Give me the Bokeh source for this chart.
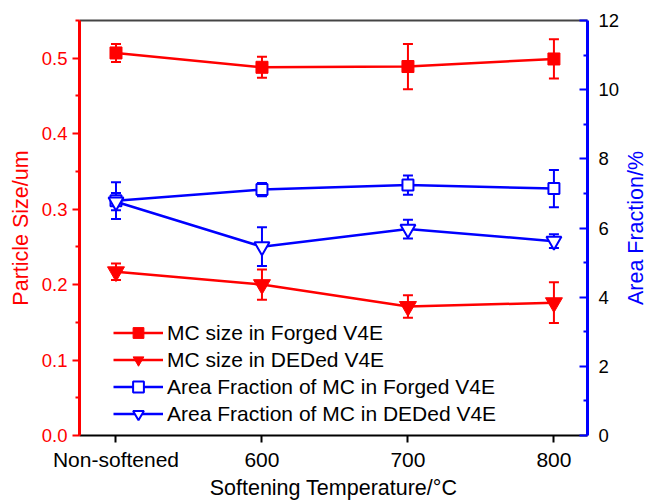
from bokeh.plotting import figure
from bokeh.layouts import row
from bokeh.models import (Range1d, LinearAxis, FixedTicker, ColumnDataSource,
                          Whisker, TeeHead, Legend, CustomJSTickFormatter, Title)
from bokeh.embed import file_html
from bokeh.resources import INLINE

# ---------------- data ----------------
categories = ["Non-softened", "600", "700", "800"]
xpos = [0, 1, 2, 3]

size_forged = [0.507, 0.488, 0.489, 0.499]
size_forged_err = [0.012, 0.014, 0.030, 0.026]
size_ded = [0.217, 0.200, 0.171, 0.176]
size_ded_err = [0.011, 0.020, 0.015, 0.027]

area_forged = [6.79, 7.11, 7.24, 7.14]
area_forged_err = [0.53, 0.19, 0.28, 0.54]
area_ded = [6.76, 5.46, 5.97, 5.62]
area_ded_err = [0.25, 0.56, 0.27, 0.20]

left_ticks = [0.0, 0.1, 0.2, 0.3, 0.4, 0.5]
left_minor = [0.05, 0.15, 0.25, 0.35, 0.45, 0.55]
right_ticks = [0, 2, 4, 6, 8, 10, 12]
right_minor = [1, 3, 5, 7, 9, 11]

RED = "#ff0000"
BLUE = "#0000ff"
FONT = "Liberation Sans"

W, H = 647, 502
W2 = 25                      # strip holding the right-hand axis title
BL, BR, BT, BB = 79, 32, 20, 67

p = figure(width=W - W2, height=H, output_backend="svg", toolbar_location=None,
           x_range=Range1d(-0.25, 3.23), y_range=Range1d(0, 0.55),
           min_border_left=BL, min_border_right=BR, min_border_top=BT,
           min_border_bottom=BB, y_axis_location=None, x_axis_location=None)
p.extra_y_ranges = {"area": Range1d(0, 12)}
p.grid.visible = False
p.outline_line_color = None
p.background_fill_color = "white"
p.border_fill_color = "white"

# bottom axis
xa = LinearAxis(ticker=FixedTicker(ticks=xpos),
                major_label_overrides={i: c for i, c in zip(xpos, categories)})
xa.axis_line_color = "black"
xa.axis_line_width = 2
xa.major_tick_line_color = "black"
xa.major_tick_line_width = 2
xa.major_tick_out = 7
xa.major_tick_in = 0
xa.minor_tick_line_color = None
xa.major_label_text_font = FONT
xa.major_label_text_font_size = "21px"
xa.major_label_text_color = "black"
xa.major_label_standoff = 5
xa.axis_label = "Softening Temperature/°C"
xa.axis_label_text_font = FONT
xa.axis_label_text_font_size = "21.5px"
xa.axis_label_text_font_style = "normal"
xa.axis_label_text_color = "black"
xa.axis_label_standoff = 2
p.add_layout(xa, "below")

# top border
ta = LinearAxis(ticker=FixedTicker(ticks=[]))
ta.axis_line_color = "#444444"
ta.axis_line_width = 2
ta.major_tick_line_color = None
ta.minor_tick_line_color = None
ta.major_label_text_font_size = "0px"
ta.major_label_standoff = 0
p.add_layout(ta, "above")

# left axis
la = LinearAxis(ticker=FixedTicker(ticks=left_ticks, minor_ticks=left_minor))
la.formatter = CustomJSTickFormatter(code="return tick.toFixed(1);")
la.axis_line_color = RED
la.axis_line_width = 3
la.major_tick_line_color = RED
la.major_tick_line_width = 2
la.major_tick_out = 7
la.major_tick_in = 0
la.minor_tick_line_color = RED
la.minor_tick_line_width = 2
la.minor_tick_out = 4
la.minor_tick_in = 0
la.major_label_text_font = FONT
la.major_label_text_font_size = "18.5px"
la.major_label_text_color = RED
la.major_label_standoff = 5
la.axis_label = "Particle Size/um"
la.axis_label_text_font = FONT
la.axis_label_text_font_size = "21.5px"
la.axis_label_text_font_style = "normal"
la.axis_label_text_color = RED
la.axis_label_standoff = 6
p.add_layout(la, "left")

# right axis
ra = LinearAxis(y_range_name="area",
                ticker=FixedTicker(ticks=right_ticks, minor_ticks=right_minor))
ra.axis_line_color = BLUE
ra.axis_line_width = 3
ra.major_tick_line_color = BLUE
ra.major_tick_line_width = 2
ra.major_tick_out = 0
ra.major_tick_in = 8
ra.minor_tick_line_color = BLUE
ra.minor_tick_line_width = 2
ra.minor_tick_out = 0
ra.minor_tick_in = 4
ra.major_label_text_font = FONT
ra.major_label_text_font_size = "18.5px"
ra.major_label_text_color = "black"
ra.major_label_standoff = 11
p.add_layout(ra, "right")


def src(vals, errs):
    return ColumnDataSource(dict(
        x=xpos, y=vals,
        lo=[v - e for v, e in zip(vals, errs)],
        hi=[v + e for v, e in zip(vals, errs)]))


def whisker(source, color, range_name="default"):
    w = Whisker(source=source, base="x", upper="hi", lower="lo",
                dimension="height", line_color=color, line_width=2,
                y_range_name=range_name,
                upper_head=TeeHead(size=10, line_color=color, line_width=2),
                lower_head=TeeHead(size=10, line_color=color, line_width=2))
    p.add_layout(w)


s1 = src(size_forged, size_forged_err)
s2 = src(size_ded, size_ded_err)
s3 = src(area_forged, area_forged_err)
s4 = src(area_ded, area_ded_err)

whisker(s1, RED)
whisker(s2, RED)
whisker(s3, BLUE, "area")
whisker(s4, BLUE, "area")

l1 = p.line("x", "y", source=s1, line_color=RED, line_width=2.5)
m1 = p.scatter("x", "y", source=s1, marker="square", size=12,
               fill_color=RED, line_color=RED)
l2 = p.line("x", "y", source=s2, line_color=RED, line_width=2.5)
m2 = p.scatter("x", "y", source=s2, marker="inverted_triangle", size=17,
               fill_color=RED, line_color=RED)
l3 = p.line("x", "y", source=s3, line_color=BLUE, line_width=2.5,
            y_range_name="area")
m3 = p.scatter("x", "y", source=s3, marker="square", size=11,
               fill_color="white", line_color=BLUE, line_width=2,
               y_range_name="area")
l4 = p.line("x", "y", source=s4, line_color=BLUE, line_width=2.5,
            y_range_name="area")
m4 = p.scatter("x", "y", source=s4, marker="inverted_triangle", size=15,
               fill_color="white", line_color=BLUE, line_width=2,
               y_range_name="area")

legend = Legend(items=[
    ("MC size in Forged V4E", [l1, m1]),
    ("MC size in DEDed V4E", [l2, m2]),
    ("Area Fraction of MC in Forged V4E", [l3, m3]),
    ("Area Fraction of MC in DEDed V4E", [l4, m4]),
], location=(34, 8))
legend.background_fill_alpha = 0
legend.border_line_color = None
legend.padding = 0
legend.margin = 0
legend.spacing = 0
legend.glyph_width = 50
legend.glyph_height = 27
legend.label_height = 27
legend.label_standoff = 4
legend.label_text_font = FONT
legend.label_text_font_size = "21px"
legend.label_text_color = "black"
p.add_layout(legend, "center")

# narrow strip whose left-side title reads bottom-to-top, like the reference
p2 = figure(width=W2, height=H, output_backend="svg", toolbar_location=None,
            x_range=Range1d(0, 1), y_range=Range1d(0, 1),
            min_border_left=W2 - 1, min_border_right=0, min_border_top=BT,
            min_border_bottom=BB, y_axis_location=None, x_axis_location=None)
p2.grid.visible = False
p2.outline_line_color = None
p2.background_fill_color = "white"
p2.border_fill_color = "white"
p2.add_layout(Title(text="Area Fraction/%", align="center",
                    text_font=FONT, text_font_size="21.5px",
                    text_font_style="normal", text_color=BLUE,
                    standoff=0, offset=0), "left")

layout = row(p, p2, spacing=0)
open("out.html", "w").write(file_html(layout, INLINE))
